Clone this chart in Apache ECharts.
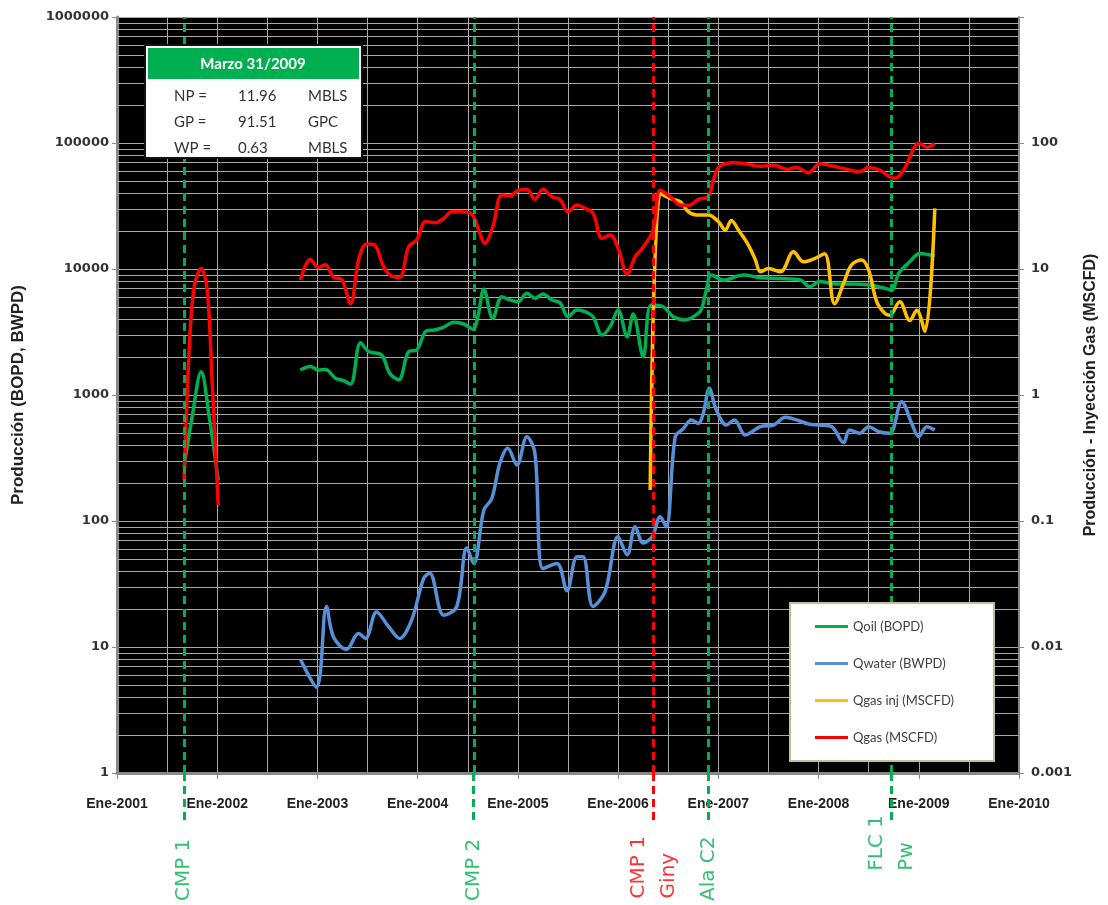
<!DOCTYPE html>
<html><head><meta charset="utf-8">
<script src="https://cdn.jsdelivr.net/npm/echarts@6/dist/echarts.min.js"></script>
<style>html,body{margin:0;padding:0;background:#fff}#c{width:1108px;height:905px}</style>
</head><body><div id="c"></div><script>
// ---- data (decimal years, values) ----
const oilX = [2001.67, 2001.75, 2001.84, 2001.92, 2002.01, 2002.4, 2002.83, 2002.93, 2003.01, 2003.08, 2003.18, 2003.26, 2003.33, 2003.43, 2003.51, 2003.64, 2003.72, 2003.81, 2003.91, 2003.99, 2004.09, 2004.17, 2004.26, 2004.36, 2004.46, 2004.55, 2004.60, 2004.66, 2004.75, 2004.84, 2004.92, 2005.00, 2005.09, 2005.17, 2005.25, 2005.34, 2005.42, 2005.50, 2005.59, 2005.67, 2005.75, 2005.84, 2005.92, 2006.00, 2006.09, 2006.15, 2006.25, 2006.33, 2006.45, 2006.55, 2006.67, 2006.80, 2006.84, 2006.88, 2006.93, 2007.05, 2007.25, 2007.42, 2007.62, 2007.82, 2007.91, 2008.01, 2008.18, 2008.35, 2008.51, 2008.66, 2008.73, 2008.80, 2008.91, 2009.01, 2009.16];
const oilY = [270, 673, 1530, 673, 211, null, 1580, 1680, 1580, 1590, 1360, 1300, 1220, 2600, 2210, 2080, 1490, 1320, 2210, 2280, 3240, 3280, 3450, 3780, 3660, 3320, 4180, 6900, 4060, 6030, 5680, 5500, 6410, 5850, 6330, 5680, 5400, 4180, 4730, 4590, 4180, 2990, 3490, 4730, 2900, 4400, 2020, 5180, 5020, 4180, 3940, 4450, 5000, 6800, 8960, 8180, 8960, 8530, 8400, 8180, 7240, 7940, 7600, 7600, 7460, 7030, 6810, 9240, 11400, 13300, 12700];

const waterX = [2002.83, 2002.99, 2003.09, 2003.16, 2003.29, 2003.41, 2003.48, 2003.59, 2003.71, 2003.82, 2003.94, 2004.06, 2004.12, 2004.26, 2004.39, 2004.49, 2004.56, 2004.66, 2004.74, 2004.82, 2004.90, 2004.99, 2005.09, 2005.17, 2005.25, 2005.39, 2005.49, 2005.59, 2005.65, 2005.75, 2005.87, 2006.00, 2006.09, 2006.17, 2006.25, 2006.34, 2006.42, 2006.48, 2006.57, 2006.65, 2006.73, 2006.80, 2006.85, 2006.91, 2006.98, 2007.08, 2007.16, 2007.27, 2007.42, 2007.55, 2007.67, 2007.78, 2007.90, 2008.01, 2008.13, 2008.25, 2008.31, 2008.41, 2008.50, 2008.60, 2008.71, 2008.83, 2008.93, 2009.00, 2009.08, 2009.16];
const waterY = [8.0, 4.8, 21, 12, 9.6, 12.8, 11.7, 19, 14.5, 11.7, 16.4, 35, 38.5, 17.9, 20.9, 61, 46, 122, 151, 287, 378, 278, 467, 345, 42, 46, 28, 52, 52, 21, 27.5, 75, 54, 90, 67, 75, 108, 90, 467, 540, 634, 595, 716, 1130, 760, 578, 634, 482, 561, 578, 665, 634, 589, 578, 561, 419, 528, 497, 561, 511, 497, 885, 595, 467, 561, 528];

const gasInjX = [2006.32, 2006.42, 2006.52, 2006.62, 2006.70, 2006.78, 2006.90, 2007.00, 2007.07, 2007.13, 2007.20, 2007.30, 2007.37, 2007.42, 2007.50, 2007.62, 2007.75, 2007.85, 2007.96, 2008.06, 2008.16, 2008.25, 2008.33, 2008.43, 2008.50, 2008.58, 2008.66, 2008.71, 2008.81, 2008.91, 2008.98, 2009.06, 2009.16];
const gasInjY = [0.176, 39.8, 36.3, 34.2, 28.5, 26.8, 26.8, 23.8, 20.4, 24.3, 20.4, 15.5, 11.8, 9.5, 10.1, 9.5, 13.7, 11.4, 12.1, 13.2, 5.3, 7.7, 10.8, 11.8, 9.8, 5.5, 4.45, 4.3, 5.5, 3.9, 4.7, 3.2, 30.3];

const gasX = [2001.67, 2001.72, 2001.77, 2001.84, 2001.90, 2001.95, 2002.01, 2002.4, 2002.83, 2002.93, 2003.01, 2003.08, 2003.16, 2003.24, 2003.33, 2003.41, 2003.49, 2003.57, 2003.66, 2003.74, 2003.82, 2003.91, 2003.99, 2004.08, 2004.17, 2004.26, 2004.34, 2004.44, 2004.54, 2004.62, 2004.67, 2004.75, 2004.84, 2004.92, 2005.00, 2005.09, 2005.17, 2005.25, 2005.34, 2005.42, 2005.50, 2005.59, 2005.67, 2005.75, 2005.84, 2005.92, 2006.00, 2006.09, 2006.17, 2006.25, 2006.35, 2006.42, 2006.52, 2006.62, 2006.71, 2006.80, 2006.90, 2006.95, 2007.01, 2007.15, 2007.28, 2007.42, 2007.55, 2007.68, 2007.78, 2007.90, 2008.01, 2008.15, 2008.28, 2008.41, 2008.50, 2008.61, 2008.71, 2008.76, 2008.85, 2008.95, 2009.00, 2009.08, 2009.16];
const gasY = [0.21, 2.3, 7.2, 10.1, 6.8, 1.24, 0.134, null, 8.2, 11.9, 10.3, 10.8, 8.6, 8.3, 5.3, 11.8, 15.8, 15.5, 10.4, 8.8, 8.6, 15.0, 17.0, 23.8, 23.3, 25.2, 28.5, 28.5, 27.3, 19.2, 16.0, 21.7, 38.7, 37.9, 41.9, 43, 35.7, 43, 37.4, 35.7, 28.5, 32.2, 30.3, 27.7, 17.5, 18.6, 14.6, 9.1, 12.5, 14.9, 20.4, 42.4, 37.5, 32.2, 32, 35.7, 37.5, 50.8, 64.9, 69.8, 68.3, 65.3, 67, 61.8, 64, 58.1, 68.3, 65.3, 61.8, 59.2, 64, 61, 54, 52.5, 61, 90.8, 99.5, 92.5, 99.5];

const seriesNames = ['Qoil (BOPD)', 'Qwater (BWPD)', 'Qgas inj (MSCFD)', 'Qgas (MSCFD)'];
const eventX = [2001.67, 2004.556, 2006.353, 2006.90, 2008.73];
const eventText = ['CMP 1', 'CMP 2', 'CMP 1\nGiny', 'Ala C2', 'FLC 1\nPw'];
const eventColor = ['#00B050', '#00B050', '#FF0000', '#00B050', '#00B050'];

const infoTitle = 'Marzo 31/2009';
const infoNames = ['NP =', 'GP =', 'WP ='];
const infoValues = ['11.96', '91.51', '0.63'];
const infoUnits = ['MBLS', 'GPC', 'MBLS'];

const axisTitleLeft = 'Producción (BOPD, BWPD)';
const axisTitleRight = 'Producción - Inyección Gas (MSCFD)';
const monthPrefix = 'Ene-';

// ---- build ----
const pairs = (xs, ys) => xs.map((x, i) => [x, ys[i] == null ? '-' : ys[i]]);
const minorVals = [];
for (let k = 0; k < 6; k++) for (let m = 2; m <= 9; m++) minorVals.push(m * Math.pow(10, k));

const gridGray = '#a8a8a8';
const labelBottoms = [0.03, 0.03, 0.05, 0.03, 0.26];

function lineSeries(name, xs, ys, color, yAxisIndex) {
  return {
    name, type: 'line', xAxisIndex: 0, yAxisIndex, data: pairs(xs, ys),
    smooth: 0.35, showSymbol: false, symbol: 'none', connectNulls: false,
    lineStyle: { color, width: 3.5 }, itemStyle: { color }, z: 3
  };
}

const option = {
  animation: false,
  backgroundColor: '#fff',
  grid: [
    { left: 117, right: 89, top: 17, bottom: 132, show: true, backgroundColor: '#000', borderWidth: 0 },
    { left: 117, right: 89, top: 773, bottom: 0, show: false }
  ],
  xAxis: [
    {
      type: 'value', gridIndex: 0, min: 2001, max: 2010, interval: 1,
      axisLine: { show: true, lineStyle: { color: '#888', width: 3 } },
      axisTick: { show: true, length: 6, lineStyle: { color: '#888', width: 1 } },
      minorTick: { show: false, splitNumber: 2 },
      splitLine: { show: true, lineStyle: { color: gridGray, width: 1 } },
      minorSplitLine: { show: true, lineStyle: { color: gridGray, width: 1 } },
      axisLabel: {
        margin: 24, color: '#222', fontFamily: 'Liberation Sans', fontWeight: 'bold', fontSize: 14,
        formatter: v => monthPrefix + Math.round(v)
      }
    },
    { type: 'value', gridIndex: 1, min: 2001, max: 2010, show: false }
  ],
  yAxis: [
    {
      type: 'log', gridIndex: 0, logBase: 10, min: 1, max: 1000000, splitNumber: 6,
      name: axisTitleLeft, nameLocation: 'middle', nameGap: 90,
      nameTextStyle: { fontFamily: 'Liberation Sans', fontWeight: 'bold', fontSize: 17, color: '#222' },
      axisLine: { show: true, lineStyle: { color: '#888', width: 3 } },
      axisTick: { show: true, length: 5, lineStyle: { color: '#888' } },
      splitLine: { show: true, lineStyle: { color: gridGray, width: 1 } },
      axisLabel: { margin: 8, color: '#333', fontFamily: 'DejaVu Sans', fontWeight: 'bold', fontSize: 13,
        formatter: v => String(Number(v.toPrecision(6))) }
    },
    {
      type: 'log', gridIndex: 0, logBase: 10, min: 0.001, max: 1000, splitNumber: 6, position: 'right',
      name: axisTitleRight, nameLocation: 'middle', nameGap: 64, nameRotate: 90,
      nameTextStyle: { fontFamily: 'Liberation Sans', fontWeight: 'bold', fontSize: 16, color: '#222' },
      axisLine: { show: true, lineStyle: { color: '#888', width: 2 } },
      axisTick: { show: true, length: 5, lineStyle: { color: '#888' } },
      splitLine: { show: false },
      axisLabel: { margin: 12, color: '#333', fontFamily: 'DejaVu Sans', fontWeight: 'bold', fontSize: 13,
        formatter: v => { const n = Number(v.toPrecision(6)); return n >= 1000 ? '' : String(n); } }
    },
    { type: 'value', gridIndex: 1, min: 0, max: 1, show: false }
  ],
  legend: {
    data: seriesNames, orient: 'vertical', left: 790, top: 603, z: 50,
    backgroundColor: '#fff', borderColor: '#c4bd97', borderWidth: 2,
    padding: [17, 40, 17, 25], itemGap: 24, itemWidth: 33, itemHeight: 3, icon: 'rect',
    textStyle: { color: '#404040', fontSize: 13, fontFamily: 'Lato' }
  },
  graphic: [{
    type: 'group', left: 144, top: 44, z: 100,
    children: [
      { type: 'rect', z: 100, shape: { x: 0, y: 0, width: 217, height: 113 }, style: { fill: '#fff', stroke: '#111', lineWidth: 2 } },
      { type: 'rect', z: 101, shape: { x: 3, y: 3, width: 211, height: 31 }, style: { fill: '#00B050' } },
      { type: 'text', z: 102, x: 108, y: 19, style: { text: infoTitle, fill: '#fff', font: 'bold 15px Lato', align: 'center', verticalAlign: 'middle' } },
      ...infoNames.flatMap((n, i) => [
        { type: 'text', z: 102, x: 29, y: 51 + i * 26, style: { text: n, fill: '#333', font: '15px Lato', align: 'left', verticalAlign: 'middle' } },
        { type: 'text', z: 102, x: 93, y: 51 + i * 26, style: { text: infoValues[i], fill: '#333', font: '15px Lato', align: 'left', verticalAlign: 'middle' } },
        { type: 'text', z: 102, x: 163, y: 51 + i * 26, style: { text: infoUnits[i], fill: '#333', font: '15px Lato', align: 'left', verticalAlign: 'middle' } }
      ])
    ]
  }],
  series: [
    {
      type: 'line', name: 'minorGrid', xAxisIndex: 0, yAxisIndex: 0, data: [[2001, 1]], symbol: 'none',
      lineStyle: { width: 0 }, silent: true, z: 1,
      markLine: { silent: true, z: 1, symbol: ['none', 'none'], label: { show: false },
        lineStyle: { color: gridGray, width: 1, type: 'solid' },
        data: minorVals.map(v => ({ yAxis: v })) }
    },
    lineSeries(seriesNames[0], oilX, oilY, '#00B050', 0),
    lineSeries(seriesNames[1], waterX, waterY, '#5890D8', 0),
    lineSeries(seriesNames[2], gasInjX, gasInjY, '#FFC000', 1),
    lineSeries(seriesNames[3], gasX, gasY, '#FF0000', 1),
    {
      type: 'line', name: 'events', xAxisIndex: 0, yAxisIndex: 0, data: [[2001, 1]], symbol: 'none',
      lineStyle: { width: 0 }, silent: true, z: 5,
      markLine: { silent: true, z: 5, symbol: ['none', 'none'], label: { show: false },
        data: eventX.map((x, i) => ({ xAxis: x, lineStyle: { color: eventColor[i], width: 3, type: [8, 5] } })) }
    },
    {
      type: 'line', name: 'eventsBelow', xAxisIndex: 1, yAxisIndex: 2, data: [[2001, 0]], symbol: 'none',
      lineStyle: { width: 0 }, silent: true, z: 5,
      markLine: { silent: true, symbol: ['none', 'none'], label: { show: false },
        data: eventX.map((x, i) => [
          { coord: [x, 1], lineStyle: { color: eventColor[i], width: 3, type: [8, 5] } },
          { coord: [x, 0.63] }
        ]) }
    },
    {
      type: 'scatter', name: 'eventLabels', xAxisIndex: 1, yAxisIndex: 2, symbolSize: 0, silent: true, z: 6,
      data: eventX.map((x, i) => ({
        value: [x, labelBottoms[i]], name: eventText[i],
        label: { color: eventColor[i] }
      })),
      label: { show: true, position: 'inside', formatter: '{b}', rotate: 90, align: 'left', verticalAlign: 'middle',
        fontFamily: 'DejaVu Sans', fontSize: 20, lineHeight: 30 }
    }
  ]
};
const chart = echarts.init(document.getElementById('c'), null, { renderer: 'canvas' });
chart.setOption(option);
</script></body></html>
